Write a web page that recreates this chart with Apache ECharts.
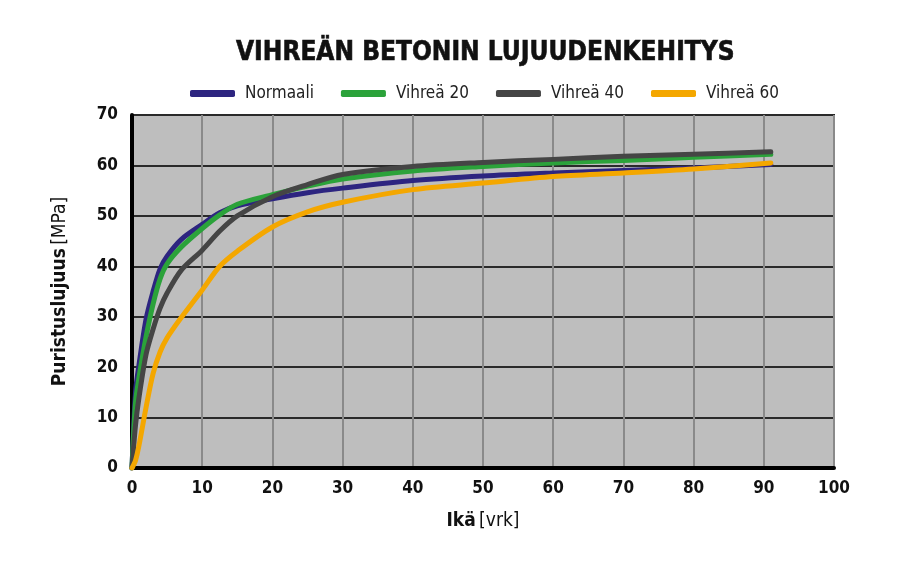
<!DOCTYPE html>
<html>
<head>
<meta charset="utf-8">
<script src="https://cdn.jsdelivr.net/npm/echarts@6/dist/echarts.min.js"></script>
<style>
html,body{margin:0;padding:0;background:#fff;}
#chart{width:920px;height:563px;}
</style>
</head>
<body>
<div id="chart"></div>
<script>
const titleText = 'VIHREÄN BETONIN LUJUUDENKEHITYS';
const seriesNames = ['Normaali', 'Vihreä 20', 'Vihreä 40', 'Vihreä 60'];
const days = [0, 0.5, 1, 2, 3, 4, 5, 7, 10, 12.5, 15, 20, 25, 30, 40, 50, 60, 70, 80, 91];
const normaali = [0, 15, 20.5, 29.5, 35, 39.5, 42, 45.3, 48.3, 50.6, 52.0, 53.4, 54.6, 55.5, 57.0, 57.9, 58.5, 59.0, 59.5, 60.2];
const vihrea20 = [0, 13, 18, 26, 32.5, 37.5, 40.5, 43.8, 47.5, 50.2, 52.3, 54.2, 55.9, 57.3, 58.9, 59.8, 60.5, 61.0, 61.6, 62.2];
const vihrea40 = [0, 8.5, 14, 22.5, 27.5, 31.7, 34.7, 39.2, 43.2, 47, 50.0, 53.8, 56.2, 58.2, 59.8, 60.6, 61.2, 61.8, 62.2, 62.7];
const vihrea60 = [0, 1.5, 4.5, 12, 18.7, 23, 25.8, 29.8, 35.3, 40, 43, 47.8, 50.8, 52.7, 55.2, 56.5, 57.8, 58.5, 59.3, 60.5];
const xTicks = [0, 10, 20, 30, 40, 50, 60, 70, 80, 90, 100];
const yTicks = [0, 10, 20, 30, 40, 50, 60, 70];
const colors = ['#2d2580', '#2ba23a', '#454545', '#f4a700'];

const allValues = [normaali, vihrea20, vihrea40, vihrea60];
const FONT = '"Liberation Sans Narrow", "DejaVu Sans Condensed", sans-serif';
const richName = {
  b: {fontFamily: FONT, fontSize: 19, fontWeight: 'bold', color: '#111'},
  r: {fontFamily: FONT, fontSize: 19, fontWeight: 'normal', color: '#111'}
};

const chart = echarts.init(document.getElementById('chart'), null, {renderer: 'canvas'});
chart.setOption({
  animation: false,
  backgroundColor: '#ffffff',
  title: {
    text: titleText,
    left: 231,
    top: 35,
    textStyle: {fontFamily: FONT, fontSize: 26, fontWeight: 'bold', color: '#111',
      textBorderColor: '#111', textBorderWidth: 0.6}
  },
  legend: {
    top: 80,
    left: 185,
    itemWidth: 45,
    itemHeight: 7,
    itemGap: 27,
    icon: 'roundRect',
    textStyle: {fontFamily: FONT, fontSize: 17, color: '#222', padding: [0, 0, 0, 5]},
    data: seriesNames
  },
  grid: {left: 132, right: 86, top: 115, bottom: 95, show: true, backgroundColor: '#bebebe', borderColor: '#222', borderWidth: 2},
  xAxis: {
    type: 'value', min: 0, max: 100, interval: 10,
    name: '{b|Ikä} {r|[vrk]}',
    nameLocation: 'middle',
    nameGap: 44,
    nameTextStyle: {rich: richName},
    axisLine: {show: true, lineStyle: {color: '#000', width: 4}},
    axisTick: {show: false},
    axisLabel: {fontFamily: FONT, fontSize: 17, fontWeight: 'bold', color: '#111', margin: 12},
    splitLine: {show: true, lineStyle: {color: '#8a8a8a', width: 2}}
  },
  yAxis: {
    type: 'value', min: 0, max: 70, interval: 10,
    name: '{b|Puristuslujuus} {r|[MPa]}',
    nameLocation: 'middle',
    nameGap: 62,
    nameTextStyle: {rich: richName},
    axisLine: {show: true, lineStyle: {color: '#000', width: 4}},
    axisTick: {show: false},
    axisLabel: {fontFamily: FONT, fontSize: 17, fontWeight: 'bold', color: '#111', margin: 14},
    splitLine: {show: true, lineStyle: {color: '#2a2a2a', width: 2}}
  },
  series: seriesNames.map((n, i) => ({
    name: n,
    type: 'line',
    smooth: 0.3,
    showSymbol: false,
    symbol: 'none',
    lineStyle: {width: 5, color: colors[i], cap: 'round', join: 'round'},
    itemStyle: {color: colors[i]},
    data: days.map((d, j) => [d, allValues[i][j]])
  }))
});
</script>
</body>
</html>
